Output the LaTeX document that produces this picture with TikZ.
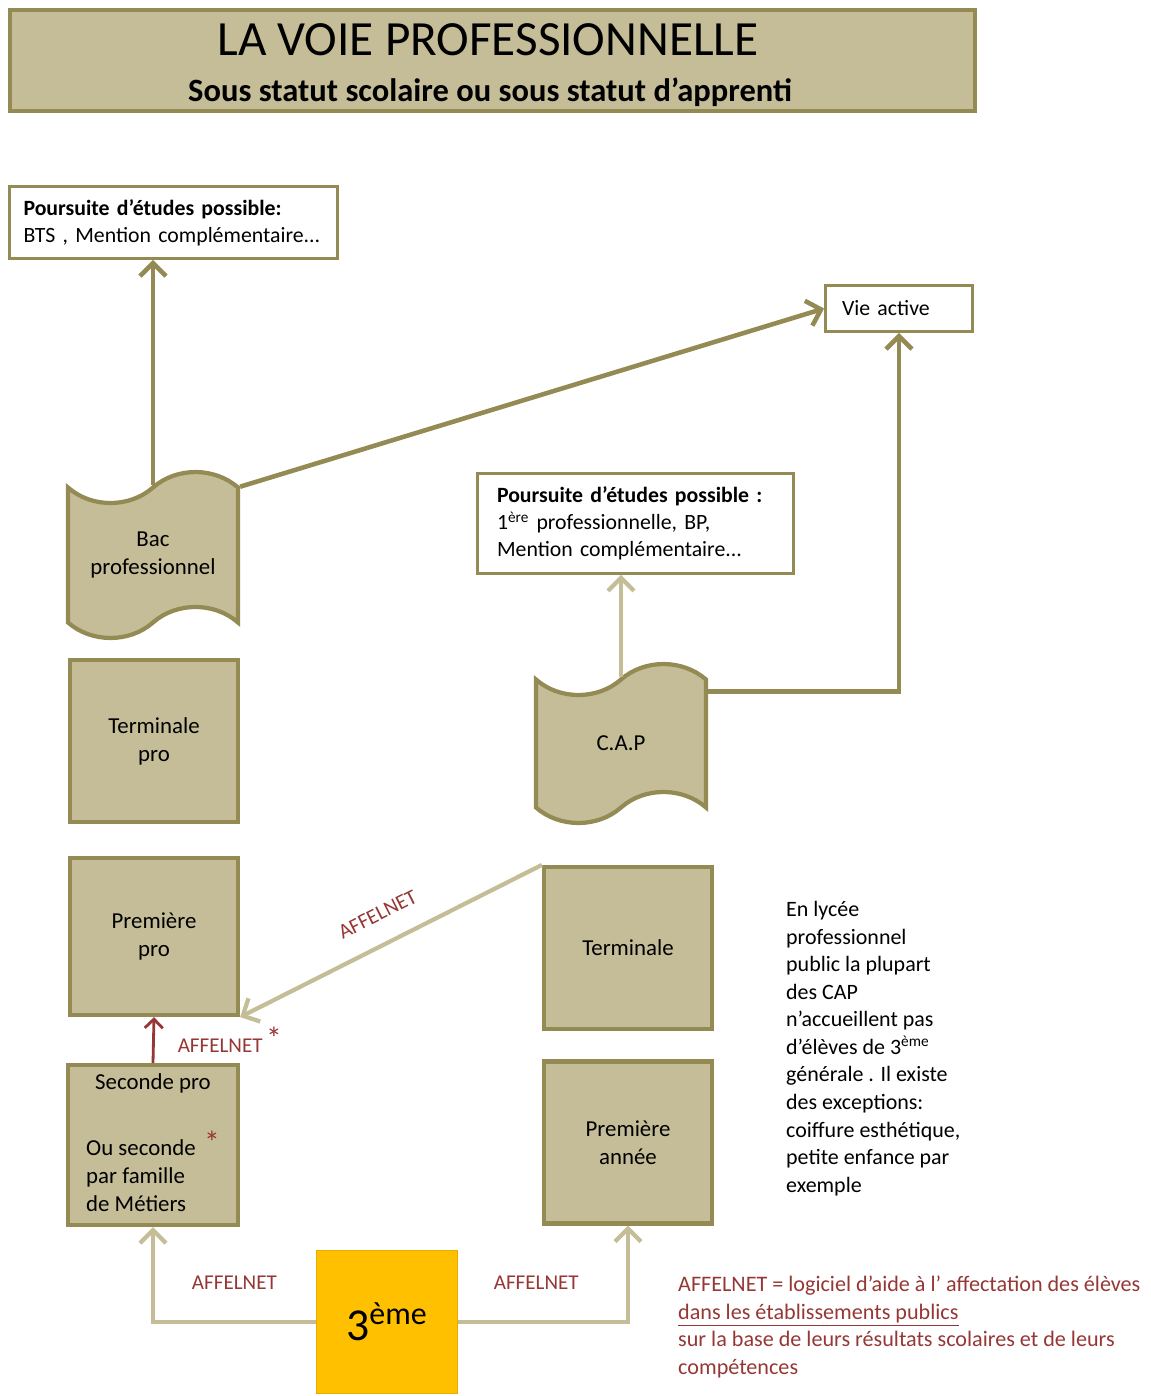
\documentclass[tikz,border=0pt]{standalone}
\usepackage{fontspec}
\setmainfont{Carlito}
\usetikzlibrary{shapes.symbols,arrows.meta,positioning}
\definecolor{khaki}{RGB}{196,189,151}
\definecolor{olive}{RGB}{148,138,84}
\definecolor{affred}{RGB}{149,55,53}
\definecolor{gold}{RGB}{255,192,0}
\tikzset{
    >={Straight Barb[length=2.6mm,width=5.2mm]}, % open arrow heads as in the original
    }

\begin{document}
\begin{tikzpicture}[x=0.02cm,y=-0.02cm,
classbox/.style={rectangle, draw=olive, fill=khaki, line width=2.4pt, minimum width=3.36cm, minimum height=3.24cm, font=\fontsize{13}{16}\selectfont, align=center},
diploma/.style={tape, draw=olive, fill=khaki, line width=2.4pt, minimum width=3.4cm, minimum height=3.32cm, tape bend height=0.62cm, font=\fontsize{13}{16}\selectfont, align=center},
infobox/.style={rectangle, draw=olive, fill=white, line width=1.6pt, font=\fontsize{12.4}{15.3}\selectfont, align=left},
darkarrow/.style={draw=olive, line width=2.6pt, ->},
lightarrow/.style={draw=khaki, line width=2.4pt, ->},
affel/.style={text=affred, font=\fontsize{12}{14}\selectfont},
]
\useasboundingbox (0,0) rectangle (1151,1396);

% titre
\node[draw=olive, fill=khaki, line width=2.4pt, minimum width=19.3cm, minimum height=2.02cm] (titre) at (492.5,60.5) {};
\node[font=\fontsize{28}{30}\selectfont] (titretxt) at (488,40) {LA VOIE PROFESSIONNELLE};
\node[font=\bfseries\fontsize{18.5}{20}\selectfont] (soustitre) at (490,92) {Sous statut scolaire ou sous statut d’apprenti};

% voie bac pro
\node[infobox, text width=6.0cm, inner xsep=0.28cm, minimum height=1.44cm] (etudesbac) at (173.5,222.5) {\textbf{Poursuite d’études possible:}\\BTS , Mention complémentaire...};
\node[infobox, text width=2.28cm, inner xsep=0.33cm, minimum height=0.92cm] (vie) at (899,308.5) {Vie active};
\node[diploma] (bac) at (153,555) {Bac\\professionnel};
\node[classbox] (termpro) at (154,741) {Terminale\\pro};
\node[classbox, minimum height=3.14cm] (prempro) at (154,936.5) {Première\\pro};
\node[classbox, minimum width=3.4cm, minimum height=3.2cm] (seconde) at (153,1145) {};
\node[font=\fontsize{13}{16}\selectfont] (secondetxt) at (153,1083) {Seconde pro};
\node[font=\fontsize{13}{16}\selectfont, align=left, anchor=west] (famille) at (80,1176) {Ou seconde\\par famille\\de Métiers};
\node[text=affred, font=\fontsize{18}{18}\selectfont] (etoile) at (212,1142) {*};

% voie CAP
\node[infobox, text width=5.54cm, inner xsep=0.39cm, minimum height=2.0cm] (etudescap) at (635.5,523.5) {\textbf{Poursuite d’études possible :}\\1\textsuperscript{ère} professionnelle, BP,\\Mention complémentaire...};
\node[diploma, minimum height=3.18cm] (cap) at (621,743.5) {C.A.P};
\node[classbox] (terminale) at (628,948) {Terminale};
\node[classbox] (premannee) at (628,1142.5) {Première\\année};

% 3eme
\node[rectangle, fill=gold, draw=gold!90!black, line width=0.8pt, minimum width=2.82cm, minimum height=2.86cm, font=\fontsize{26}{28}\selectfont] (troisieme) at (387,1322) {3\textsuperscript{ème}};

% textes
\node[anchor=north west, align=left, font=\fontsize{12.5}{15.7}\selectfont] (remarque) at (780,895) {En lycée\\professionnel\\public  la plupart\\des CAP\\n’accueillent pas\\d’élèves de 3\textsuperscript{ème}\\générale . Il existe\\des exceptions:\\coiffure esthétique,\\petite enfance par\\exemple};
\node[anchor=north west, align=left, text=affred, font=\fontsize{12.6}{15.6}\selectfont] (legende) at (672,1270) {AFFELNET = logiciel d’aide à l’ affectation des élèves\\\underline{dans les établissements publics}\\sur la base  de leurs résultats scolaires et de leurs\\compétences};

% fleches
\draw[darkarrow] (bac.north) -- (bac.north |- etudesbac.south);
\draw[darkarrow] (bac.north east) -- (vie.west);
\draw[lightarrow] (cap.north) -- (cap.north |- etudescap.south);
\draw[darkarrow] ([yshift=-0.25cm]cap.north east) -| (vie.south);
\draw[lightarrow,<-] (prempro.south east) -- node[affel, sloped, above=0.3cm] {AFFELNET} (terminale.north west);
\draw[draw=affred, line width=1.6pt, -{Straight Barb[length=1.8mm,width=3.6mm]}] (seconde.north) -- node[affel, right=0.34cm] {AFFELNET\,\raisebox{2pt}{\fontsize{18}{18}\selectfont *}} (prempro.south);
\draw[lightarrow] (troisieme.west) -| node[affel, pos=0.25, above=0.5cm] {AFFELNET} (seconde.south);
\draw[lightarrow] (troisieme.east) -| node[affel, pos=0.23, above=0.5cm] {AFFELNET} (premannee.south);
\end{tikzpicture}
\end{document}
